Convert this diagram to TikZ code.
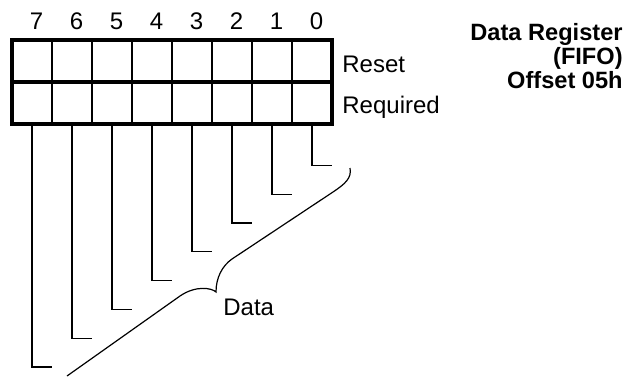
\documentclass[tikz,border=0pt]{standalone}
\usepackage{fontspec}
\setmainfont{Liberation Sans}
\usetikzlibrary{positioning}
\tikzset{
  reg cell/.style={
    draw,
    line width=0.7pt,
    minimum width=20pt,
    minimum height=21pt,
    inner sep=0pt,
    outer sep=0pt
  },
  reg frame/.style={
    line width=1.8pt
  },
  data line/.style={
    line width=0.6pt
  },
  bit label/.style={
    font=\fontsize{12}{14}\selectfont,
    inner sep=0pt,
    anchor=base
  },
  row label/.style={
    font=\fontsize{12}{14}\selectfont,
    inner sep=0pt,
    anchor=base west
  },
  reg title/.style={
    font=\bfseries\fontsize{11.8}{10}\selectfont,
    align=right,
    inner sep=0pt,
    anchor=north east
  }
}

\begin{document}
\begin{tikzpicture}[x=0.5pt,y=-0.5pt]
  \useasboundingbox (0,0) rectangle (632,376);

  % register cells, bit numbers and data lines
  \foreach \b in {7,...,0}{
    \pgfmathsetmacro\cx{32+40*(7-\b)}
    \node[reg cell] (R-\b) at (\cx,61) {};
    \node[reg cell] (Q-\b) at (\cx,103) {};
    \node[bit label] (N-\b) at (\cx+4.5,29) {\b};
    \coordinate (T-\b) at (\cx+20,{367-28.8*(7-\b)});
    \draw[data line] (Q-\b.south) |- (T-\b);
  }

  \draw[reg frame] (R-7.north west) rectangle (Q-0.south east);
  \draw[reg frame] (R-7.south west) -- (R-0.south east);

  \node[row label] (reset) at (342,72) {Reset};
  \node[row label] (required) at (342,113) {Required};

  % brace
  \draw[data line] (350,168) .. controls (352,178) and (345,184) .. (333,192)
    -- (232,259) .. controls (222,266) and (216,278) .. (216,292)
    .. controls (212,288) and (196,285) .. (180,296) -- (67,376);
  \node[row label] (data) at (223,315) {Data};

  \node[reg title] (title) at (623,23) {Data Register\\(FIFO)\\Offset 05h};
\end{tikzpicture}
\end{document}
